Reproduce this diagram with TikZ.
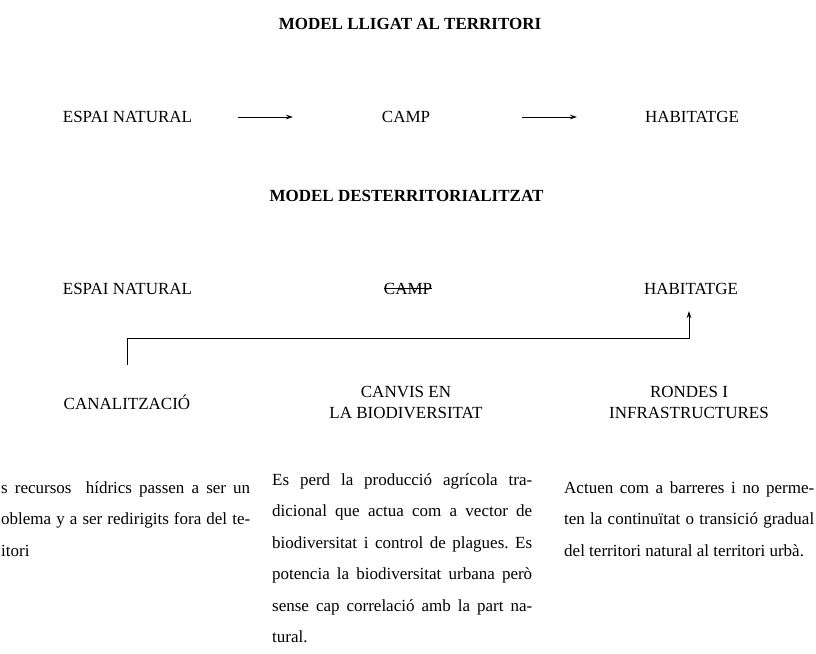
\documentclass[tikz,border=0pt]{standalone}
\usepackage{fontspec}
\setmainfont{Liberation Serif}
\usetikzlibrary{arrows.meta}
\frenchspacing
\tikzset{
  lbl/.style={inner sep=0pt, font=\fontsize{17pt}{21.5pt}\selectfont},
  ttl/.style={inner sep=0pt, font=\fontsize{17pt}{21.5pt}\selectfont\bfseries},
  body/.style={inner sep=0pt, anchor=base west, font=\fontsize{17pt}{21.5pt}\selectfont},
  conn/.style={line width=0.8pt, -{Stealth[length=7pt,width=4.5pt]}},
  plain/.style={line width=0.8pt}
}
\newcommand{\jline}[2]{\makebox[#1][s]{#2}}
\begin{document}
\begin{tikzpicture}[x=1pt,y=-1pt]
\useasboundingbox (0,0) rectangle (816,653);
% titles
\node[ttl, anchor=base] (t1) at (410,29) {MODEL LLIGAT AL TERRITORI};
\node[ttl, anchor=base] (t2) at (406.5,201) {MODEL DESTERRITORIALITZAT};
% row 1
\node[lbl, anchor=base] (e1) at (127.5,122) {ESPAI NATURAL};
\node[lbl, anchor=base] (c1) at (406,122) {CAMP};
\node[lbl, anchor=base] (h1) at (692,122) {HABITATGE};
\coordinate (a1s) at (238,117);
\coordinate (a1e) at (293,117);
\coordinate (a2s) at (522,117);
\coordinate (a2e) at (577,117);
\draw[conn] (a1s) -- (a1e);
\draw[conn] (a2s) -- (a2e);
% row 2
\node[lbl, anchor=base] (e2) at (127.5,294) {ESPAI NATURAL};
\node[lbl, anchor=base] (c2) at (408,294) {CAMP};
\node[lbl, anchor=base] (h2) at (691,294) {HABITATGE};
\draw[plain] ([yshift=5.5pt]c2.base west) -- ([yshift=5.5pt]c2.base east);
% connector
\coordinate (k0) at (127,365);
\coordinate (k1) at (689,311);
\draw[conn] (k0) |- (k1 |- 0,338) -- (k1);
% row 3 labels
\node[lbl, anchor=base] (l1) at (127,409) {CANALITZACIÓ};
\node[lbl, align=center] (l2) at (406,402.5) {CANVIS EN\\LA BIODIVERSITAT};
\node[lbl, align=center] (l3) at (689,402.5) {RONDES I\\INFRASTRUCTURES};
% left paragraph (clipped at page edge)
\node[body] (p1a) at (1,493) {\jline{249pt}{s recursos \ hídrics passen a ser un}};
\node[body] (p1b) at (1,524.5) {\jline{249pt}{oblema y a ser redirigits fora del te-}};
\node[body] (p1c) at (1,556) {itori};
% middle paragraph
\node[body] (p2a) at (272,485) {\jline{260pt}{Es perd la producció agrícola tra-}};
\node[body] (p2b) at (272,516.5) {\jline{260pt}{dicional que actua com a vector de}};
\node[body] (p2c) at (272,548) {\jline{260pt}{biodiversitat i control de plagues. Es}};
\node[body] (p2d) at (272,579.5) {\jline{260pt}{potencia la biodiversitat urbana però}};
\node[body] (p2e) at (272,611) {\jline{260pt}{sense cap correlació amb la part na-}};
\node[body] (p2f) at (272,642.5) {tural.};
% right paragraph
\node[body] (p3a) at (564,493) {\jline{250pt}{Actuen com a barreres i no perme-}};
\node[body] (p3b) at (564,524.5) {\jline{250pt}{ten la continuïtat o transició gradual}};
\node[body] (p3c) at (564,556) {del territori natural al territori urbà.};
\end{tikzpicture}
\end{document}
